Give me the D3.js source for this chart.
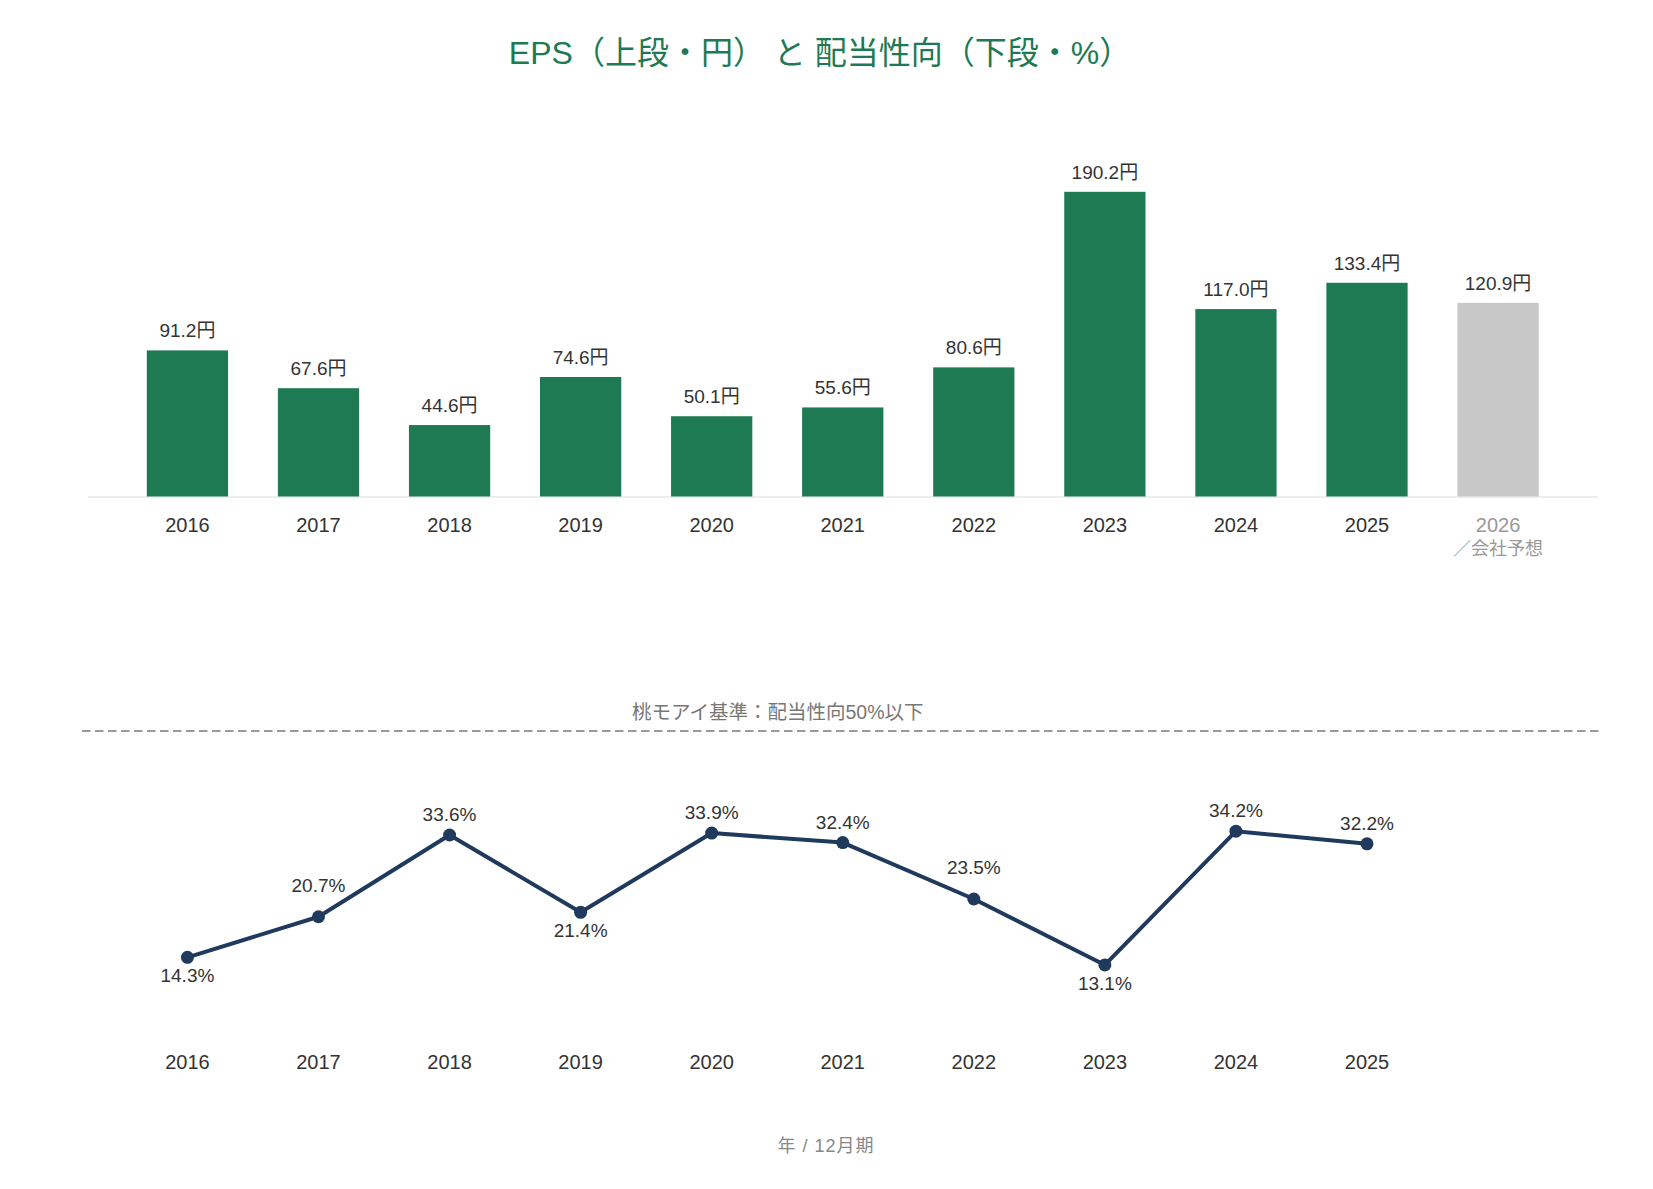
<!DOCTYPE html>
<html>
<head>
<meta charset="utf-8">
<script src="https://cdn.jsdelivr.net/npm/d3@7"></script>
<style>
  body { margin: 0; background: #fff; }
  svg text { font-family: "Liberation Sans", "Noto Sans CJK JP", sans-serif; }
</style>
</head>
<body>
<div id="chart"></div>
<script>
// données
var years = ["2016", "2017", "2018", "2019", "2020", "2021", "2022", "2023", "2024", "2025", "2026"];
var eps = [91.2, 67.6, 44.6, 74.6, 50.1, 55.6, 80.6, 190.2, 117.0, 133.4, 120.9];
var forecastYear = "2026";
var payoutYears = ["2016", "2017", "2018", "2019", "2020", "2021", "2022", "2023", "2024", "2025"];
var payout = [14.3, 20.7, 33.6, 21.4, 33.9, 32.4, 23.5, 13.1, 34.2, 32.2];
// où mettre l'étiquette de chaque point (dessous / dessus / dessus sur la pente)
var payoutLabelPos = ["below", "slope", "above", "below", "above", "above", "slope", "below", "above", "above"];
var payoutLimit = 50;
var limitLabel = "桃モアイ基準：配当性向50%以下";
var title = "EPS（上段・円） と 配当性向（下段・%）";
var forecastNote = "／会社予想";
var footer = "年 / 12月期";

var width = 1653, height = 1189;
var green = "#1d7a52", navy = "#1f3a5c";

var svg = d3.select("#chart").append("svg")
  .attr("width", width)
  .attr("height", height);

// titre
svg.append("text")
  .attr("x", 820)
  .attr("y", 64)
  .attr("text-anchor", "middle")
  .attr("fill", green)
  .style("font-size", "32px")
  .text(title);

// échelle x commune aux deux graphiques
var x = d3.scaleBand()
  .domain(years)
  .range([121.9, 1563.6])
  .paddingInner(0.38)
  .paddingOuter(0.19);

// --- EPS en barres ---
var y = d3.scaleLinear().domain([0, 200]).range([496.5, 176.1]);

svg.append("line")
  .attr("x1", 88).attr("x2", 1598)
  .attr("y1", y(0) + 0.5).attr("y2", y(0) + 0.5)
  .attr("stroke", "#dddddd")
  .attr("stroke-width", 1.2);

svg.selectAll("rect.bar").data(eps)
  .enter().append("rect")
  .attr("class", "bar")
  .attr("x", function(d, i) { return x(years[i]); })
  .attr("width", x.bandwidth())
  .attr("y", function(d) { return y(d); })
  .attr("height", function(d) { return y(0) - y(d); })
  .attr("fill", function(d, i) { return years[i] == forecastYear ? "#c8c8c8" : green; });

svg.selectAll("text.eps").data(eps)
  .enter().append("text")
  .attr("class", "eps")
  .attr("x", function(d, i) { return x(years[i]) + x.bandwidth() / 2; })
  .attr("y", function(d) { return y(d) - 13; })
  .attr("text-anchor", "middle")
  .attr("fill", "#333")
  .style("font-size", "19px")
  .text(function(d) { return d.toFixed(1) + "円"; });

var xAxisTop = svg.append("g")
  .attr("transform", "translate(0," + y(0) + ")")
  .call(d3.axisBottom(x).tickSize(0).tickPadding(0));
xAxisTop.select(".domain").remove();
xAxisTop.selectAll("text")
  .attr("dy", null)
  .attr("y", 35.5)
  .attr("fill", function(d) { return d == forecastYear ? "#999" : "#333"; })
  .style("font-family", "'Liberation Sans', 'Noto Sans CJK JP', sans-serif")
  .style("font-size", "20px");
xAxisTop.selectAll(".tick").filter(function(d) { return d == forecastYear; })
  .append("text")
  .attr("y", 58)
  .attr("fill", "#999")
  .attr("text-anchor", "middle")
  .style("font-size", "18px")
  .text(forecastNote);

// ---配当性向 en ligne ---
var y2 = d3.scaleLinear().domain([0, 50]).range([1048, 731]);

svg.append("line")
  .attr("x1", 82).attr("x2", 1603)
  .attr("y1", y2(payoutLimit)).attr("y2", y2(payoutLimit))
  .attr("stroke", "#9a9a9a")
  .attr("stroke-width", 2)
  .attr("stroke-dasharray", "8.5,4.5");

svg.append("text")
  .attr("x", 632)
  .attr("y", y2(payoutLimit) - 12)
  .attr("fill", "#777")
  .style("font-size", "19.5px")
  .text(limitLabel);

var line = d3.line()
  .x(function(d, i) { return x(payoutYears[i]) + x.bandwidth() / 2; })
  .y(function(d) { return y2(d); });

svg.append("path")
  .datum(payout)
  .attr("d", line)
  .attr("fill", "none")
  .attr("stroke", navy)
  .attr("stroke-width", 4)
  .attr("stroke-linejoin", "round");

svg.selectAll("circle.pt").data(payout)
  .enter().append("circle")
  .attr("class", "pt")
  .attr("cx", function(d, i) { return x(payoutYears[i]) + x.bandwidth() / 2; })
  .attr("cy", function(d) { return y2(d); })
  .attr("r", 6.5)
  .attr("fill", navy);

var offsets = { below: 25, above: -14, slope: -25 };
svg.selectAll("text.pct").data(payout)
  .enter().append("text")
  .attr("class", "pct")
  .attr("x", function(d, i) { return x(payoutYears[i]) + x.bandwidth() / 2; })
  .attr("y", function(d, i) { return y2(d) + offsets[payoutLabelPos[i]]; })
  .attr("text-anchor", "middle")
  .attr("fill", "#333")
  .style("font-size", "19px")
  .text(function(d) { return d.toFixed(1) + "%"; });

var xAxisBottom = svg.append("g")
  .attr("transform", "translate(0,1069)")
  .call(d3.axisBottom(x.copy().domain(payoutYears.concat([forecastYear]))).tickSize(0).tickPadding(0));
xAxisBottom.select(".domain").remove();
xAxisBottom.selectAll(".tick").filter(function(d) { return d == forecastYear; }).remove();
xAxisBottom.selectAll("text")
  .attr("dy", null)
  .attr("y", 0)
  .attr("fill", "#333")
  .style("font-family", "'Liberation Sans', 'Noto Sans CJK JP', sans-serif")
  .style("font-size", "20px");

// pied
svg.append("text")
  .attr("x", 826)
  .attr("y", 1152)
  .attr("text-anchor", "middle")
  .attr("fill", "#888")
  .style("font-size", "18px")
  .style("letter-spacing", "1px")
  .text(footer);
</script>
</body>
</html>
